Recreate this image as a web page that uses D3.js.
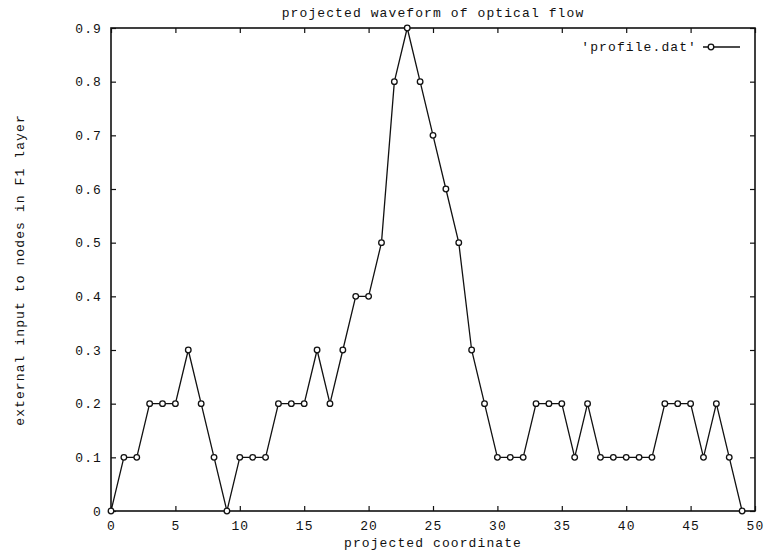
<!DOCTYPE html>
<html lang="en">
<head>
    <meta charset="UTF-8">
    <title>projected waveform of optical flow</title>
    <style>
        body, html {
            margin: 0;
            background-color: #ffffff;
        }
        svg text {
            font-family: "Liberation Mono", "DejaVu Sans Mono", monospace;
            font-size: 13px;
            letter-spacing: 1.1px;
            fill: #111;
        }
    </style>
</head>
<body>
    <script src="https://d3js.org/d3.v7.min.js"></script>
    <script>
        // data (x = 0..49)
        var xs = d3.range(0, 50);
        var profile = [0, 0.1, 0.1, 0.2, 0.2, 0.2, 0.3, 0.2, 0.1, 0,
                       0.1, 0.1, 0.1, 0.2, 0.2, 0.2, 0.3, 0.2, 0.3, 0.4,
                       0.4, 0.5, 0.8, 0.9, 0.8, 0.7, 0.6, 0.5, 0.3, 0.2,
                       0.1, 0.1, 0.1, 0.2, 0.2, 0.2, 0.1, 0.2, 0.1, 0.1,
                       0.1, 0.1, 0.1, 0.2, 0.2, 0.2, 0.1, 0.2, 0.1, 0];
        var xTicks = [0, 5, 10, 15, 20, 25, 30, 35, 40, 45, 50];
        var yTicks = [0, 0.1, 0.2, 0.3, 0.4, 0.5, 0.6, 0.7, 0.8, 0.9];

        var width = 776,
            height = 551;
        var margin = {top: 28, right: 21, bottom: 40, left: 111};

        var svg = d3.select("body").append("svg")
            .attr("width", width)
            .attr("height", height);

        var x = d3.scaleLinear().domain([0, 50]).range([margin.left, width - margin.right]);
        var y = d3.scaleLinear().domain([0, 0.9]).range([height - margin.bottom, margin.top]);

        // axes: ticks point inward, mirrored on opposite sides
        svg.append("g")
            .attr("transform", "translate(0," + y(0) + ")")
            .call(d3.axisBottom(x).tickValues(xTicks).tickSizeInner(-5).tickSizeOuter(0).tickPadding(10))
            .call(function(g) { g.select(".domain").remove(); });
        svg.append("g")
            .attr("transform", "translate(0," + y(0.9) + ")")
            .call(d3.axisTop(x).tickValues(xTicks).tickSizeInner(-5).tickSizeOuter(0).tickFormat(""))
            .call(function(g) { g.select(".domain").remove(); });
        svg.append("g")
            .attr("transform", "translate(" + x(0) + ",0)")
            .call(d3.axisLeft(y).tickValues(yTicks).tickSizeInner(-5).tickSizeOuter(0).tickPadding(9)
                .tickFormat(function(d) { return d === 0 ? "0" : d3.format(".1f")(d); }))
            .call(function(g) { g.select(".domain").remove(); });
        svg.append("g")
            .attr("transform", "translate(" + x(50) + ",0)")
            .call(d3.axisRight(y).tickValues(yTicks).tickSizeInner(-5).tickSizeOuter(0).tickFormat(""))
            .call(function(g) { g.select(".domain").remove(); });

        svg.selectAll(".tick line").attr("stroke", "#111").attr("stroke-width", 1.2);
        svg.selectAll(".tick text").attr("font-family", null).attr("font-size", null);

        // frame
        svg.append("rect")
            .attr("x", x(0)).attr("y", y(0.9))
            .attr("width", x(50) - x(0)).attr("height", y(0) - y(0.9))
            .attr("fill", "none").attr("stroke", "#111").attr("stroke-width", 1.6);

        // series
        var line = d3.line()
            .x(function(d, i) { return x(xs[i]); })
            .y(function(d) { return y(d); });

        svg.append("path")
            .datum(profile)
            .attr("d", line)
            .attr("fill", "none")
            .attr("stroke", "#111")
            .attr("stroke-width", 1.3);

        svg.selectAll("circle.pt")
            .data(profile)
            .enter()
            .append("circle")
            .attr("class", "pt")
            .attr("cx", function(d, i) { return x(xs[i]); })
            .attr("cy", function(d) { return y(d); })
            .attr("r", 2.8)
            .attr("fill", "#fff")
            .attr("stroke", "#111")
            .attr("stroke-width", 1.3);

        // legend
        var ly = 47;
        svg.append("text")
            .attr("x", 697).attr("y", ly + 4)
            .attr("text-anchor", "end")
            .text("'profile.dat'");
        svg.append("line")
            .attr("x1", 703).attr("x2", 740).attr("y1", ly).attr("y2", ly)
            .attr("stroke", "#111").attr("stroke-width", 1.3);
        svg.append("circle")
            .attr("cx", 711).attr("cy", ly).attr("r", 2.8)
            .attr("fill", "#fff").attr("stroke", "#111").attr("stroke-width", 1.3);

        // titles
        svg.append("text")
            .attr("x", 433).attr("y", 17)
            .attr("text-anchor", "middle")
            .text("projected waveform of optical flow");
        svg.append("text")
            .attr("x", 433).attr("y", 547)
            .attr("text-anchor", "middle")
            .text("projected coordinate");
        svg.append("text")
            .attr("transform", "translate(24," + 270 + ") rotate(-90)")
            .attr("text-anchor", "middle")
            .text("external input to nodes in F1 layer");
    </script>
</body>
</html>
